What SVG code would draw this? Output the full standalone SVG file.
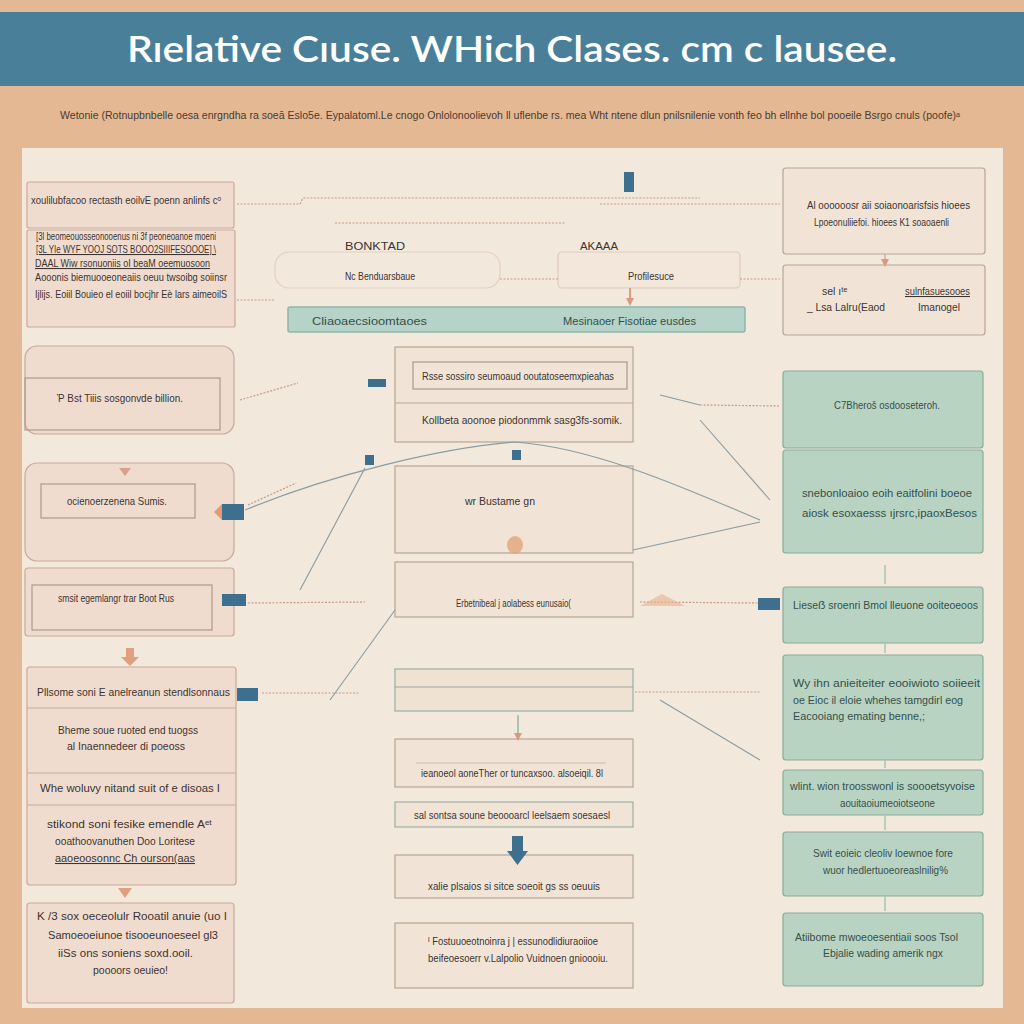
<svg xmlns="http://www.w3.org/2000/svg" width="1024" height="1024" viewBox="0 0 1024 1024">
<defs>
<style>
.t{font-family:"Liberation Sans",Arial,sans-serif;font-size:10.5px;fill:#3b3431}
.tg{font-family:"Liberation Sans",Arial,sans-serif;font-size:10.5px;fill:#34504a}
.pk{fill:#f0dccf;stroke:#c8aa9b;stroke-width:1.2}
.cr{fill:#f1e4d7;stroke:#b8a596;stroke-width:1.2}
.gn{fill:#b9d3c3;stroke:#8aab99;stroke-width:1.2}
.in{fill:none;stroke:#a99a90;stroke-width:1.2}
.dot{fill:none;stroke:#c99a86;stroke-width:1.2;stroke-dasharray:2 1.5}
.gl{fill:none;stroke:#8a9ba3;stroke-width:1.1}
.bl{fill:#3f6f8f}
.or{fill:#e09a78}
</style>
<marker id="ah" viewBox="0 0 10 10" refX="5" refY="5" markerWidth="10" markerHeight="8" markerUnits="userSpaceOnUse" orient="auto"><path d="M0,0L10,5L0,10z" fill="#d79a80"/></marker>
</defs>
<rect width="1024" height="1024" fill="#e4b892"/>
<rect x="0" y="12" width="1024" height="74" fill="#4a7f9a"/>
<text x="512" y="62" text-anchor="middle" font-family="Lato,'Open Sans',sans-serif" font-weight="600" font-size="36" fill="#ffffff" textLength="770" lengthAdjust="spacingAndGlyphs">Rıelative Cıuse. WHich Clases. cm c lausee.</text>
<text x="510" y="119" text-anchor="middle" font-family="'Liberation Sans',sans-serif" font-size="10" fill="#4a3c34" textLength="900" lengthAdjust="spacingAndGlyphs">Wetonie (Rotnupbnbelle oesa enrgndha ra soeā Eslo5e. Eypalatoml.Le cnogo Onlolonoolievoh ll uflenbe rs. mea Wht ntene dlun pnilsnilenie vonth feo bh ellnhe bol pooeile Bsrgo cnuls (poofe)ᵃ</text>
<rect x="22" y="148" width="981" height="860" fill="#f2e8db"/>

<g id="n1"><rect class="pk" x="27" y="182" width="207" height="46" rx="2"/><text class="t" x="31" y="204" textLength="190" lengthAdjust="spacingAndGlyphs">xoulilubfacoo rectasth eoilvE poenn anlinfs cᵒ</text></g>
<g id="n2"><rect class="pk" x="27" y="230" width="208" height="97" rx="2"/>
<text class="t" x="36" y="240" font-size="8" textLength="180" lengthAdjust="spacingAndGlyphs">[3l beomeouosseonooenus ni 3f peoneoanoe moeni</text>
<text class="t" x="36" y="253" font-size="9.5" text-decoration="underline" textLength="180" lengthAdjust="spacingAndGlyphs">[3L YIe WYF YOOJ SOTS BOOO2SIIIFESOOOE] \</text>
<text class="t" x="35" y="267" font-size="9.5" text-decoration="underline" textLength="175" lengthAdjust="spacingAndGlyphs">DAAL Wiw rsonuoniis oI beaM oeemuosoon</text>
<text class="t" x="35" y="281" textLength="192" lengthAdjust="spacingAndGlyphs">Aooonis biemuooeoneaiis oeuu twsoibg soiinsr</text>
<text class="t" x="35" y="298" textLength="192" lengthAdjust="spacingAndGlyphs">Ijlijs. Eoiil Bouieo el eoiil bocjhr Eè lars aimeoilS</text></g>
<g id="n3"><rect class="pk" x="25" y="346" width="209" height="88" rx="12"/><rect class="in" x="25" y="378" width="195" height="52"/><text class="t" x="57" y="402" textLength="126" lengthAdjust="spacingAndGlyphs">Ῥ Bst Tiiis sosgonvde billion.</text></g>
<g id="n4"><rect class="pk" x="25" y="463" width="209" height="98" rx="12"/><rect class="in" x="41" y="484" width="154" height="34" fill="#f1e4d8"/><text class="t" x="67" y="505" textLength="100" lengthAdjust="spacingAndGlyphs">ocienoerzenena Sumis.</text></g>
<g id="n5"><rect class="pk" x="25" y="568" width="209" height="68" rx="3"/><rect class="in" x="32" y="585" width="180" height="45" stroke="#dcc2b4"/><text class="t" x="58" y="602" textLength="116" lengthAdjust="spacingAndGlyphs">smsit egemlangr trar Boot Rus</text></g>
<g id="n6"><rect class="pk" x="27" y="667" width="209" height="218" rx="3"/>
<line x1="27" y1="708" x2="236" y2="708" stroke="#c8aa9b"/><line x1="27" y1="773" x2="236" y2="773" stroke="#c8aa9b"/><line x1="27" y1="805" x2="236" y2="805" stroke="#c8aa9b"/>
<text class="t" x="37" y="696" textLength="193" lengthAdjust="spacingAndGlyphs">Pllsome soni E anelreanun stendlsonnaus</text>
<text class="t" x="58" y="734" textLength="140" lengthAdjust="spacingAndGlyphs">Bheme soue ruoted end tuogss</text>
<text class="t" x="67" y="750" textLength="118" lengthAdjust="spacingAndGlyphs">al Inaennedeer di poeoss</text>
<text class="t" x="40" y="792" textLength="180" lengthAdjust="spacingAndGlyphs">Whe woluvy nitand suit of e disoas  I</text>
<text class="t" x="47" y="828" textLength="165" lengthAdjust="spacingAndGlyphs">stikond soni fesike emendle Aᵉᵗ</text>
<text class="t" x="55" y="845" textLength="140" lengthAdjust="spacingAndGlyphs">ooathoovanuthen Doo Loritese</text>
<text class="t" x="55" y="862" text-decoration="underline" textLength="140" lengthAdjust="spacingAndGlyphs">aaoeoosonnc Ch ourson(aas</text></g>
<g id="n7"><rect class="pk" x="27" y="903" width="207" height="100" rx="3"/>
<text class="t" x="37" y="920" textLength="190" lengthAdjust="spacingAndGlyphs">K /3  sox oeceolulr Rooatil  anuie (uo I</text>
<text class="t" x="48" y="939" textLength="170" lengthAdjust="spacingAndGlyphs">Samoeoeiunoe tisooeunoeseel gl3</text>
<text class="t" x="58" y="957" textLength="135" lengthAdjust="spacingAndGlyphs">iiSs ons soniens soxd.ooil.</text>
<text class="t" x="93" y="974" textLength="75" lengthAdjust="spacingAndGlyphs">poooors oeuieo!</text></g>

<g id="n8"><rect x="275" y="252" width="225" height="36" rx="14" fill="none" stroke="#e5cfc0" stroke-width="1.2"/><text class="t" x="345" y="250" fill="#6f8fa3" font-size="13" textLength="60" lengthAdjust="spacingAndGlyphs">BONKTAD</text><text class="t" x="345" y="280" textLength="70" lengthAdjust="spacingAndGlyphs">Nc Benduarsbaue</text></g>
<g id="n9"><rect x="558" y="252" width="182" height="36" rx="4" fill="#f3e6da" stroke="#e0ccbf" stroke-width="1.2"/><text class="t" x="580" y="250" fill="#6f8fa3" font-size="12" textLength="38" lengthAdjust="spacingAndGlyphs">AKAAA</text><text class="t" x="628" y="280" textLength="46" lengthAdjust="spacingAndGlyphs">Profilesuce</text></g>
<g id="n10"><rect x="288" y="307" width="457" height="25" rx="2" fill="#b5d3c8" stroke="#8fb6a8" stroke-width="1.5"/><text class="tg" x="312" y="325" font-size="12" fill="#3a4a45" textLength="115" lengthAdjust="spacingAndGlyphs">Cliaoaecsioomtaoes</text><text class="tg" x="563" y="325" font-size="12" fill="#3a4a45" textLength="133" lengthAdjust="spacingAndGlyphs">Mesinaoer Fisotiae eusdes</text></g>
<g id="n11"><rect class="cr" x="395" y="347" width="238" height="95"/><rect class="in" x="413" y="362" width="214" height="27"/><line x1="395" y1="403" x2="633" y2="403" stroke="#b8a596"/>
<text class="t" x="422" y="380" textLength="192" lengthAdjust="spacingAndGlyphs">Rsse sossiro seumoaud ooutatoseemxpieahas</text>
<text class="t" x="422" y="424" textLength="200" lengthAdjust="spacingAndGlyphs">Kollbeta aoonoe piodonmmk  sasg3fs-somik.</text></g>
<g id="n12"><rect class="cr" x="395" y="466" width="238" height="87" fill="#f2e0d2"/><text class="t" x="465" y="505" fill="#b09a8e" textLength="70" lengthAdjust="spacingAndGlyphs">wr Bustame gn</text></g>
<g id="n13"><rect class="cr" x="395" y="562" width="238" height="55"/><text class="t" x="456" y="607" textLength="115" lengthAdjust="spacingAndGlyphs">Erbetnibeal j aolabess eunusaio(</text></g>
<g id="n14"><rect x="395" y="669" width="238" height="42" fill="#efe2d2" stroke="#9bb5ab" stroke-width="1.3"/><line x1="395" y1="687" x2="633" y2="687" stroke="#9aa7a0"/></g>
<g id="n15"><rect class="cr" x="395" y="739" width="238" height="48"/><line x1="416" y1="763" x2="606" y2="763" stroke="#c9bbae"/><text class="t" x="421" y="777" textLength="182" lengthAdjust="spacingAndGlyphs">ieanoeol aoneTher or tuncaxsoo. alsoeiqil. 8l</text></g>
<g id="n16"><rect x="395" y="802" width="238" height="25" fill="#f1e4d7" stroke="#9fb0a6" stroke-width="1.2"/><text class="t" x="414" y="819" textLength="196" lengthAdjust="spacingAndGlyphs">sal sontsa soune beoooarcl leelsaem soesaesl</text></g>
<g id="n17"><rect class="cr" x="395" y="855" width="238" height="43" fill="#f2e2d4"/><text class="t" x="428" y="890" textLength="172" lengthAdjust="spacingAndGlyphs">xalie plsaios si sitce soeoit gs ss oeuuis</text></g>
<g id="n18"><rect class="cr" x="395" y="923" width="238" height="65"/><text class="t" x="428" y="945" textLength="170" lengthAdjust="spacingAndGlyphs">ᴵ Fostuuoeotnoinra j | essunodlidiuraoiioe</text><text class="t" x="428" y="962" textLength="180" lengthAdjust="spacingAndGlyphs">beifeoesoerr v.Lalpolio Vuidnoen gnioooiu.</text></g>

<g id="n19"><rect class="cr" x="783" y="168" width="202" height="86" rx="3"/><text class="t" x="807" y="209" textLength="163" lengthAdjust="spacingAndGlyphs">Al oooooosr aii soiaonoarisfsis hioees</text><text class="t" x="814" y="226" textLength="135" lengthAdjust="spacingAndGlyphs">Lpoeonuliiefoi. hioees K1 soaoaenli</text></g>
<g id="n20"><rect class="cr" x="783" y="265" width="202" height="70" rx="3"/><text class="t" x="822" y="295" fill="#c49a88" font-size="9">sel ıᵗᵉ</text><text class="t" x="807" y="311" textLength="78" lengthAdjust="spacingAndGlyphs">_ Lsa Lalru(Eaod</text><text class="t" x="905" y="295" fill="#3f6f8f" text-decoration="underline" textLength="65" lengthAdjust="spacingAndGlyphs">sulnfasuesooes</text><text class="t" x="918" y="311" textLength="42" lengthAdjust="spacingAndGlyphs">Imanogel</text></g>
<g id="n21"><rect class="gn" x="783" y="371" width="200" height="77" rx="3"/><text class="tg" x="834" y="409" textLength="106" lengthAdjust="spacingAndGlyphs">C7Bheroš osdooseteroh.</text></g>
<g id="n22"><rect class="gn" x="783" y="450" width="200" height="103" rx="3"/><text class="tg" x="802" y="497" textLength="170" lengthAdjust="spacingAndGlyphs">snebonloaioo eoih eaitfolini boeoe</text><text class="tg" x="802" y="517" textLength="175" lengthAdjust="spacingAndGlyphs">aiosk  esoxaesss  ıjrsrc,ipaoxBesos</text></g>
<g id="n23"><rect class="gn" x="783" y="587" width="200" height="56" rx="3"/><text class="tg" x="793" y="609" textLength="185" lengthAdjust="spacingAndGlyphs">Lieseẞ sroenri Bmol lleuone ooiteoeoos</text></g>
<g id="n24"><rect class="gn" x="783" y="655" width="200" height="105" rx="3"/><text class="tg" x="793" y="687" textLength="187" lengthAdjust="spacingAndGlyphs">Wy ihn anieiteiter eooiwioto soiieeit</text><text class="tg" x="793" y="704" textLength="170" lengthAdjust="spacingAndGlyphs">oe Eioc il eloie whehes tamgdirl eog</text><text class="tg" x="793" y="720" textLength="132" lengthAdjust="spacingAndGlyphs">Eacooiang emating benne,;</text></g>
<g id="n25"><rect class="gn" x="783" y="770" width="200" height="45" rx="3"/><text class="tg" x="790" y="790" textLength="185" lengthAdjust="spacingAndGlyphs">wlint. wion troosswonl is  soooetsyvoise</text><text class="tg" x="840" y="807" textLength="95" lengthAdjust="spacingAndGlyphs">aouitaoiumeoiotseone</text></g>
<g id="n26"><rect class="gn" x="783" y="832" width="200" height="64" rx="3"/><text class="tg" x="813" y="857" textLength="140" lengthAdjust="spacingAndGlyphs">Swit eoieic cleoliv loewnoe fore</text><text class="tg" x="823" y="874" textLength="125" lengthAdjust="spacingAndGlyphs">wuor hedlertuoeoreaslnilig%</text></g>
<g id="n27"><rect class="gn" x="783" y="913" width="200" height="73" rx="3"/><text class="tg" x="795" y="941" textLength="163" lengthAdjust="spacingAndGlyphs">Atiibome mwoeoesentiaii soos  Tsol</text><text class="tg" x="823" y="957" textLength="120" lengthAdjust="spacingAndGlyphs">Ebjalie wading amerik ngx</text></g>

<g id="connectors">
<path class="dot" d="M237,204 L300,204 L303,198 L700,198"/>
<path class="dot" d="M600,204 L780,204"/>
<path class="dot" d="M335,223 L565,223"/>
<path class="dot" d="M237,300 L275,300"/>
<path class="dot" d="M500,279 L558,279"/>
<path class="dot" d="M740,279 L780,279"/>
<path class="dot" d="M240,400 L298,383"/>
<path class="dot" d="M248,505 L296,483"/>
<path class="gl" d="M245,510 C330,475 440,448 515,442 C600,448 700,495 760,520"/>
<path class="gl" d="M300,590 L365,468"/>
<path class="gl" d="M633,550 L760,522"/>
<path class="dot" d="M248,603 L365,602"/>
<path class="dot" d="M640,602 L758,603"/>
<path class="dot" d="M700,405 L780,406"/>
<path class="gl" d="M660,395 L700,405"/>
<path class="gl" d="M700,420 L770,500"/>
<path class="dot" d="M262,693 L360,693"/>
<path class="dot" d="M635,692 L760,692"/>
<path class="gl" d="M660,700 L760,760"/>
<path class="gl" d="M330,700 L395,610"/>
<line x1="518" y1="715" x2="518" y2="737" stroke="#7aa" stroke-width="1.2" marker-end="url(#ah)"/>
<line x1="885" y1="254" x2="885" y2="263" stroke="#c8b0a0" stroke-width="1.5" marker-end="url(#ah)"/>
<line x1="885" y1="565" x2="885" y2="584" stroke="#a8c6b5" stroke-width="1.5"/>
<line x1="885" y1="815" x2="885" y2="830" stroke="#a8c6b5" stroke-width="1.5"/>
<line x1="885" y1="896" x2="885" y2="911" stroke="#a8c6b5" stroke-width="1.5"/>
<line x1="885" y1="643" x2="885" y2="653" stroke="#a8c6b5" stroke-width="1.5"/>
<line x1="885" y1="760" x2="885" y2="768" stroke="#a8c6b5" stroke-width="1.5"/>
<line x1="630" y1="288" x2="630" y2="302" stroke="#e0a080" stroke-width="2" marker-end="url(#ah)"/>
<rect x="126" y="648" width="8" height="10" fill="#e0a080"/>
<path d="M121,657 L139,657 L130,666z" fill="#e0a080"/>
<path d="M118,888 L132,888 L125,898z" fill="#e0a080"/>
<path d="M119,468 L131,468 L125,476z" fill="#d9a08a"/>
<rect x="624" y="172" width="10" height="20" class="bl"/>
<rect x="512" y="836" width="11" height="16" class="bl"/>
<path d="M507,851 L528,851 L517.5,865z" class="bl"/>
<rect x="222" y="504" width="22" height="16" class="bl"/>
<path d="M222,504 L214,512 L222,520z" class="or"/>
<rect x="222" y="594" width="24" height="12" class="bl"/>
<rect x="237" y="688" width="21" height="13" class="bl"/>
<rect x="368" y="379" width="18" height="8" class="bl"/>
<rect x="512" y="450" width="9" height="10" class="bl"/>
<rect x="365" y="455" width="9" height="10" class="bl"/>
<rect x="758" y="598" width="22" height="12" class="bl"/>
<ellipse cx="515" cy="545" rx="8" ry="9" fill="#e3a479" opacity="0.8"/>
<path d="M640,606 L662,594 L685,606z" fill="#e7b08c" opacity="0.6"/>
</g>
</svg>
